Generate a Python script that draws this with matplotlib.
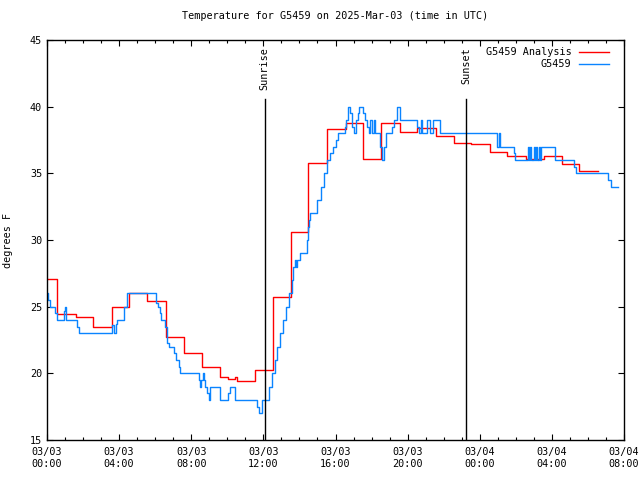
#!/usr/bin/env python
# -*- coding: utf-8 -*-
import numpy as np
import matplotlib
matplotlib.use('Agg')
import matplotlib.pyplot as plt
from matplotlib.ticker import MultipleLocator

plt.rcParams['font.family'] = ['DejaVu Sans Mono']

# 時刻は 2025-03-03 00:00 UTC からの経過時間 (h)
# 解析値 (赤, 1時間ごとの階段)
ana_h = [0.0, 0.57, 1.6, 2.57, 3.6, 4.57, 5.57, 6.59, 7.59, 8.59, 9.6, 10.05,
         10.45, 10.55, 11.56, 12.56, 13.54, 14.5, 15.55, 16.6, 17.54, 18.54,
         19.55, 20.54, 21.56, 22.57, 23.5, 24.57, 25.5, 26.55, 27.57, 28.54,
         29.5, 30.54]
ana_t = [27.1, 24.45, 24.2, 23.5, 24.95, 26.05, 25.4, 22.7, 21.5, 20.5, 19.7,
         19.6, 19.7, 19.4, 20.25, 25.7, 30.6, 35.75, 38.3, 38.8, 36.05, 38.75,
         38.07, 38.4, 37.8, 37.25, 37.2, 36.6, 36.3, 36.1, 36.27, 35.7, 35.15,
         35.15]

# 観測値 (青)
obs_h = [0.0, 0.08, 0.15, 0.45, 0.55, 0.95, 1.02, 1.08, 1.68, 1.75, 3.62,
         3.7, 3.8, 3.9, 4.28, 4.42, 6.06, 6.15, 6.25, 6.35, 6.56, 6.65, 6.74,
         7.06, 7.15, 7.3, 7.39, 8.41, 8.46, 8.52, 8.63, 8.72, 8.78, 8.87, 8.96,
         9.02, 9.57, 10.02, 10.13, 10.44, 11.65, 11.76, 11.94, 12.3, 12.46,
         12.62, 12.78, 12.94, 13.1, 13.25, 13.41, 13.56, 13.65, 13.75, 13.8,
         13.85, 14.02, 14.43, 14.5, 14.55, 14.6, 14.98, 15.17, 15.35, 15.54,
         15.7, 15.87, 16.0, 16.13, 16.5, 16.59, 16.69, 16.8, 16.89, 17.02,
         17.13, 17.24, 17.31, 17.52, 17.61, 17.76, 17.85, 17.94, 18.03, 18.13,
         18.2, 18.46, 18.59, 18.69, 18.78, 19.15, 19.24, 19.43, 19.56, 20.5,
         20.63, 20.72, 20.81, 21.09, 21.24, 21.43, 21.8, 24.98, 25.05, 25.12,
         25.9, 25.97, 26.68, 26.73, 26.8, 26.85, 27.02, 27.08, 27.14, 27.2,
         27.3, 27.36, 27.42, 28.18, 29.24, 29.33, 31.13, 31.28, 31.65]
obs_t = [26, 25.5, 25, 24.5, 24, 24.7, 25, 24, 23.5, 23, 23.6,
         23, 23.7, 24, 25, 26, 25.3, 25, 24.5, 24, 23.5, 22.3, 22,
         21.5, 21, 20.5, 20, 19.5, 19, 19.5, 20, 19.5, 19, 18.5, 18,
         19, 18, 18.5, 19, 18, 17.5, 17, 18, 19, 20,
         21, 22, 23, 24, 25, 26, 27, 28, 28.5, 28,
         28.5, 29, 30, 31, 31.5, 32, 33, 34, 35, 36,
         36.5, 37, 37.5, 38, 38.5, 39, 40, 39.5, 38.5, 38,
         39, 39.5, 40, 39.5, 39, 38.5, 38, 39, 38, 39,
         38, 37, 36, 37, 38, 38.5, 39, 40, 39, 38.5,
         38, 39, 38, 39, 38, 39, 38, 37, 38, 37,
         36.5, 36, 37, 36, 37, 36, 37, 36, 37, 36,
         37, 36, 37, 36, 35.5, 35, 34.5, 34, 34]

sunrise_h = 12.07
sunset_h = 23.24

xtick_h = np.arange(0, 33, 4)
xtick_lbl = ['03/03\n00:00', '03/03\n04:00', '03/03\n08:00', '03/03\n12:00',
             '03/03\n16:00', '03/03\n20:00', '03/04\n00:00', '03/04\n04:00',
             '03/04\n08:00']

fig = plt.figure(figsize=(6.4, 4.8), dpi=100)
ax = fig.add_axes([47 / 640, 40 / 480, 577 / 640, 400 / 480])

ax.plot(ana_h, ana_t, color='#ff0000', lw=1.0, drawstyle='steps-post',
        label='G5459 Analysis')
ax.plot(obs_h, obs_t, color='#0a84ff', lw=1.0, drawstyle='steps-post',
        label='G5459')

# 日の出・日の入り
for h, name in [(sunrise_h, 'Sunrise'), (sunset_h, 'Sunset')]:
    ax.plot([h, h], [15, 40.6], color='black', lw=1.0)
    ax.text(h, 44.45, name, rotation=90, ha='center', va='top', fontsize=7.3)

ax.set_xlim(0, 32)
ax.set_ylim(15, 45)
ax.set_xticks(xtick_h)
ax.set_xticklabels(xtick_lbl)
ax.xaxis.set_minor_locator(MultipleLocator(1))
ax.set_yticks(np.arange(15, 46, 5))
ax.tick_params(which='both', direction='in', top=True, right=True,
               labelsize=7.3, width=0.8)
ax.tick_params(which='major', length=4)
ax.tick_params(which='minor', length=2)
ax.tick_params(axis='x', pad=5)
for s in ax.spines.values():
    s.set_linewidth(1.0)

ax.set_title('Temperature for G5459 on 2025-Mar-03 (time in UTC)',
             fontsize=7.3, pad=15)
ax.set_ylabel('degrees F', fontsize=7.3, labelpad=12)

ax.legend(loc='upper right', bbox_to_anchor=(0.986, 1.0), markerfirst=False,
          frameon=False, fontsize=7.3, handlelength=2.9, labelspacing=0.2,
          borderaxespad=0.3)

fig.savefig('out.png', dpi=100)
